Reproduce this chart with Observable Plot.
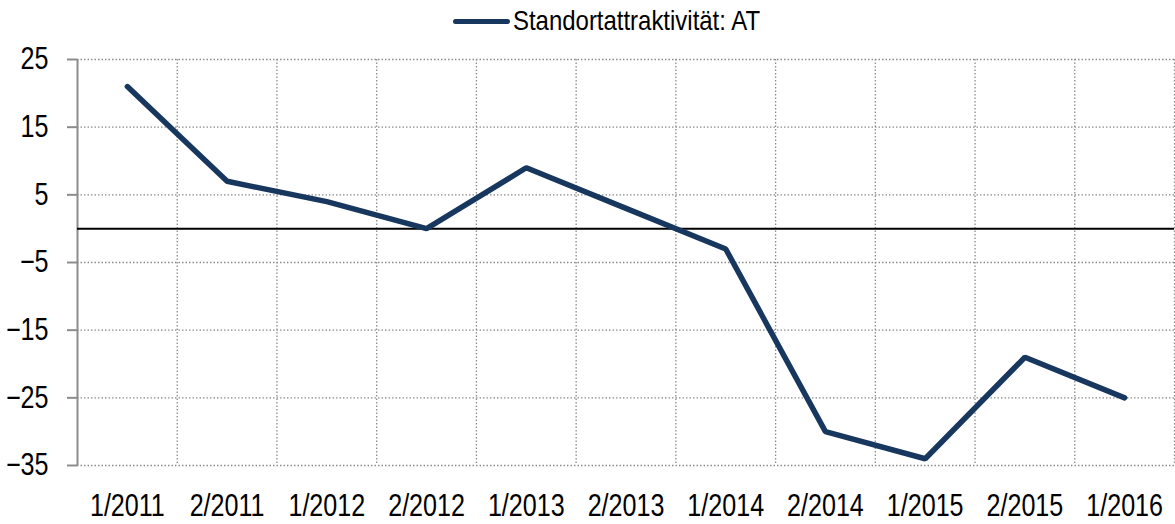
<!DOCTYPE html>
<html><head><meta charset="utf-8">
<script src="https://cdn.jsdelivr.net/npm/d3@7"></script>
<script src="https://cdn.jsdelivr.net/npm/@observablehq/plot@0.6"></script>
<style>
html,body{margin:0;padding:0;background:#fff;}
body{width:1175px;height:524px;overflow:hidden;position:relative;font-family:"Liberation Sans",Arial,sans-serif;}
#legend{position:absolute;left:0;top:0;width:1175px;height:45px;z-index:1;}
#legend .sw{position:absolute;left:453px;top:19px;width:57px;height:5px;border-radius:3px;background:#17375E;}
#legend .tx{position:absolute;left:513px;top:5px;font-size:28px;line-height:32px;color:#000;white-space:nowrap;transform:scaleX(0.855);transform-origin:left center;}
#chart svg{display:block;}
</style></head>
<body>
<div id="legend"><div class="sw"></div><div class="tx" id="legtext"></div></div>
<div id="chart"></div>
<script>
const categories = ["1/2011","2/2011","1/2012","2/2012","1/2013","2/2013","1/2014","2/2014","1/2015","2/2015","1/2016"];
const values = [21, 7, 4, 0, 9, 3, -3, -30, -34, -19, -25];
const yTicks = [25, 15, 5, -5, -15, -25, -35];
const seriesName = "Standortattraktivität: AT";

document.getElementById("legtext").textContent = seriesName;
const data = categories.map((c, i) => ({cat: c, value: values[i]}));
const W = 1175, H = 524, ML = 77, MR = 1, MT = 59, MB = 59;
const step = (W - ML - MR) / categories.length;
const grid = {stroke: "#8c8c8c", strokeWidth: 1.3, strokeDasharray: "1.5,2"};

const chart = Plot.plot({
  width: W, height: H,
  marginLeft: ML, marginRight: MR, marginTop: MT, marginBottom: MB,
  style: {fontFamily: '"Liberation Sans",Arial,sans-serif', fontSize: "31px", color: "#000", background: "transparent"},
  x: {type: "point", domain: categories, padding: 0.5, round: false, label: null},
  y: {domain: [-35, 25], label: null},
  marks: [
    Plot.ruleY(yTicks, {...grid}),
    Plot.ruleX(categories.slice(1), {...grid, dx: -step / 2}),
    Plot.ruleX(categories.slice(-1), {...grid, dx: step / 2}),
    Plot.ruleX(categories.slice(0, 1), {stroke: "#8c8c8c", strokeWidth: 2, dx: -step / 2}),
    Plot.ruleY([0], {stroke: "#000", strokeWidth: 2}),
    Plot.line(data, {x: "cat", y: "value", stroke: "#17375E", strokeWidth: 5.5, strokeLinecap: "round", strokeLinejoin: "miter"}),
    Plot.axisY({ticks: yTicks, tickSize: 10, tickPadding: 19, stroke: "#8c8c8c", strokeWidth: 2, fontSize: 31, label: null}),
    Plot.axisX({tickSize: 0, tickPadding: 28, fontSize: 31, label: null})
  ]
});
// condense tick labels horizontally (narrow font look), scaling about each text's anchor point
chart.querySelectorAll("text").forEach(t => {
  const tr = t.getAttribute("transform");
  if (tr) {
    t.setAttribute("transform", tr + " scale(0.81,1)");
  } else {
    const x = +(t.getAttribute("x") || 0), y = +(t.getAttribute("y") || 0);
    t.setAttribute("transform", `translate(${x},${y}) scale(0.81,1) translate(${-x},${-y})`);
  }
});
document.getElementById("chart").appendChild(chart);
</script>
</body></html>
